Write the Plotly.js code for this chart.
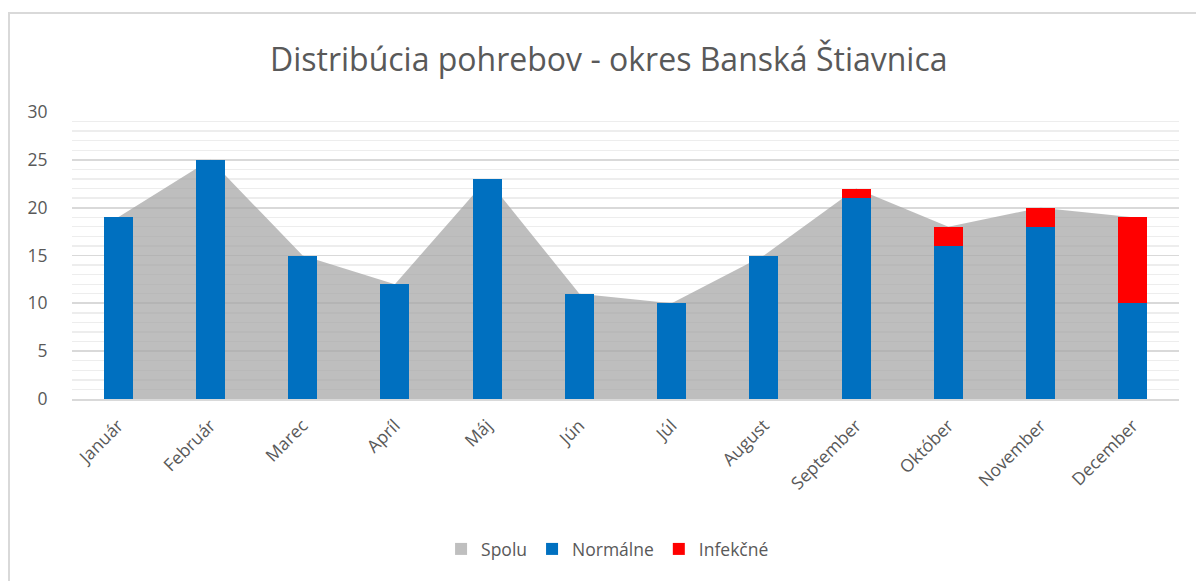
<!DOCTYPE html>
<html>
<head>
<meta charset="utf-8">
<script src="https://cdn.plot.ly/plotly-3.0.1.min.js"></script>
<style>
html,body{margin:0;padding:0;background:#fff;}
#wrap{position:relative;width:1196px;height:581px;overflow:hidden;}
#chart{position:absolute;left:0;top:0;width:1196px;height:581px;}
#frame{position:absolute;left:8px;top:12px;width:1300px;height:700px;border-left:2px solid #d9d9d9;border-top:2px solid #d9d9d9;pointer-events:none;}
</style>
</head>
<body>
<div id="wrap"><div id="chart"></div><div id="frame"></div></div>
<script>
const months = ["Január","Február","Marec","Apríl","Máj","Jún","Júl","August","September","Október","November","December"];
const spolu = [19,25,15,12,23,11,10,15,22,18,20,19];
const normalne = [19,25,15,12,23,11,10,15,21,16,18,10];
const infekcne = [0,0,0,0,0,0,0,0,1,2,2,9];

const font = "Open Sans, Liberation Sans, sans-serif";
const data = [
  {type:'scatter', name:'Spolu', x:months, y:spolu, mode:'none', fill:'tozeroy',
   fillcolor:'rgba(165,165,165,0.72)', showlegend:false, xaxis:'x', yaxis:'y'},
  {type:'bar', name:'Spolu', x:months, y:months.map(()=>null), marker:{color:'#bfbfbf'}, xaxis:'x', yaxis:'y2'},
  {type:'bar', name:'Normálne', x:months, y:normalne, marker:{color:'#0070c0'}, xaxis:'x', yaxis:'y2'},
  {type:'bar', name:'Infekčné', x:months, y:infekcne, marker:{color:'#ff0000'}, xaxis:'x', yaxis:'y2'}
];
const layout = {
  width:1196, height:581,
  margin:{l:72, r:17, t:112, b:182},
  paper_bgcolor:'#fff', plot_bgcolor:'rgba(0,0,0,0)',
  barmode:'stack', bargap:0.685,
  title:{text:'Distribúcia pohrebov - okres Banská Štiavnica', font:{family:font, size:32, color:'#595959'},
         xref:'container', x:0.509, xanchor:'center', yref:'container', y:0.897, yanchor:'middle'},
  xaxis:{type:'category', tickangle:-45, tickfont:{family:font, size:17.5, color:'#595959'},
         showline:true, linecolor:'#d9d9d9', linewidth:1.5, ticks:'outside', ticklen:8, tickcolor:'rgba(0,0,0,0)',
         showgrid:false, range:[-0.5,11.5]},
  yaxis:{range:[0,30], dtick:5, tickfont:{family:font, size:17.5, color:'#595959'},
         gridcolor:'#d9d9d9', gridwidth:1.7, zeroline:false, ticks:'outside', ticklen:20, tickcolor:'rgba(0,0,0,0)',
         minor:{dtick:1, showgrid:true, gridcolor:'#ededed', gridwidth:1.3, ticks:''}},
  yaxis2:{range:[0,30], overlaying:'y', showgrid:false, showticklabels:false, zeroline:false, showline:false},
  showlegend:true,
  legend:{orientation:'h', xref:'container', x:0.508, xanchor:'center', yref:'container', y:0.055, yanchor:'middle',
          font:{family:font, size:17.5, color:'#595959'}, traceorder:'normal', itemwidth:30},
  hovermode:false
};
Plotly.newPlot('chart', data, layout, {displayModeBar:false, staticPlot:true});
</script>
</body>
</html>
